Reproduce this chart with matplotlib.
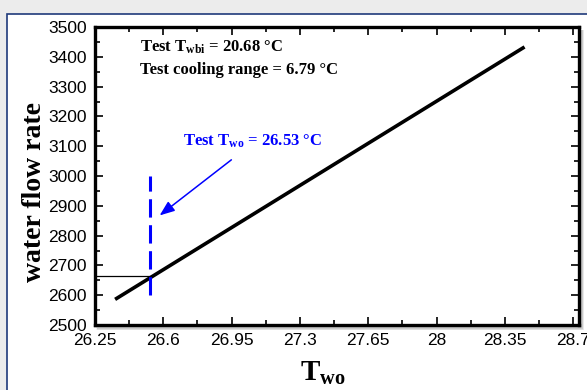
import numpy as np
import matplotlib.pyplot as plt
from matplotlib.patches import Rectangle
from matplotlib.ticker import MultipleLocator

plt.rcParams['font.family'] = ['Liberation Sans', 'DejaVu Sans']
plt.rcParams['mathtext.fontset'] = 'custom'
plt.rcParams['mathtext.rm'] = 'Liberation Serif:bold'
plt.rcParams['mathtext.bf'] = 'Liberation Serif:bold'
plt.rcParams['mathtext.it'] = 'Liberation Serif:bold'

# operating line: outlet water temperature vs water flow rate
t_wo = [26.353, 28.451]
flow = [2586, 3433]

# test point
t_wo_test = 26.53
flow_test = 2663
t_wbi_test = 20.68
cooling_range_test = 6.79

xticks = [26.25, 26.6, 26.95, 27.3, 27.65, 28, 28.35, 28.7]
xticklabels = ['26.25', '26.6', '26.95', '27.3', '27.65', '28', '28.35', '28.7']

fig = plt.figure(figsize=(5.87, 3.90), dpi=100)
fig.patch.set_facecolor('#ececec')

# white panel with navy border
fig.patches.append(Rectangle((7/587, -0.05), 1.0, 1 - 14/390 + 0.05,
                             transform=fig.transFigure, facecolor='white',
                             edgecolor='#1f3a7a', lw=1.2, zorder=0))

ax = fig.add_axes([95/587, 1 - 325/390, 484/587, 298/390])
ax.set_zorder(10)

# soft drop shadow behind the axes box
for k in range(6):
    d = (k + 1) / 587
    fig.patches.append(Rectangle((95/587 + 3/587 - d*0.3, 1 - 325/390 - 3/390 - d*0.6),
                                 484/587 + d*0.6, 298/390 + d*0.6,
                                 transform=fig.transFigure, facecolor='black',
                                 edgecolor='none', alpha=0.045, zorder=1))

ax.plot(t_wo, flow, color='black', lw=2.6, solid_capstyle='butt', zorder=3)
ax.plot([26.25, t_wo_test], [flow_test, flow_test], color='black', lw=0.9, zorder=2)
ax.plot([t_wo_test, t_wo_test], [2600, 3000], color='blue', lw=2.2,
        dashes=(6, 2.5), zorder=4)

ax.annotate('', xy=(26.57, 2862), xytext=(26.96, 3060),
            arrowprops=dict(arrowstyle='-|>,head_length=0.9,head_width=0.35',
                            color='blue', lw=1.1))

ax.text(26.48, 3433, r'Test T$_{\mathrm{wbi}}$ = %.2f °C' % t_wbi_test,
        family='Liberation Serif', weight='bold', fontsize=12, va='center')
ax.text(26.48, 3356, 'Test cooling range = %.2f °C' % cooling_range_test,
        family='Liberation Serif', weight='bold', fontsize=12, va='center')
ax.text(26.70, 3117, r'Test T$_{\mathrm{wo}}$ = %.2f °C' % t_wo_test,
        family='Liberation Serif', weight='bold', fontsize=12, va='center',
        color='blue')

ax.set_xlim(26.25, 28.73)
ax.set_ylim(2500, 3500)
ax.set_xticks(xticks)
ax.set_xticklabels(xticklabels)
ax.xaxis.set_minor_locator(MultipleLocator(0.175))
ax.yaxis.set_major_locator(MultipleLocator(100))
ax.yaxis.set_minor_locator(MultipleLocator(50))

ax.tick_params(which='both', direction='in', top=True, right=True,
               labelsize=12.5, width=1.2, pad=6)
ax.tick_params(which='major', length=6)
ax.tick_params(which='minor', length=3.5)
for s in ax.spines.values():
    s.set_linewidth(2.4)

ax.set_ylabel('water flow rate', family='Liberation Serif', weight='bold',
              fontsize=20)
ax.yaxis.set_label_coords(-0.100, 0.446)
ax.set_xlabel(r'$\mathrm{T}_{\mathrm{wo}}$', fontsize=21)
ax.xaxis.set_label_coords(0.471, -0.115)

fig.savefig('out.png', dpi=100)
